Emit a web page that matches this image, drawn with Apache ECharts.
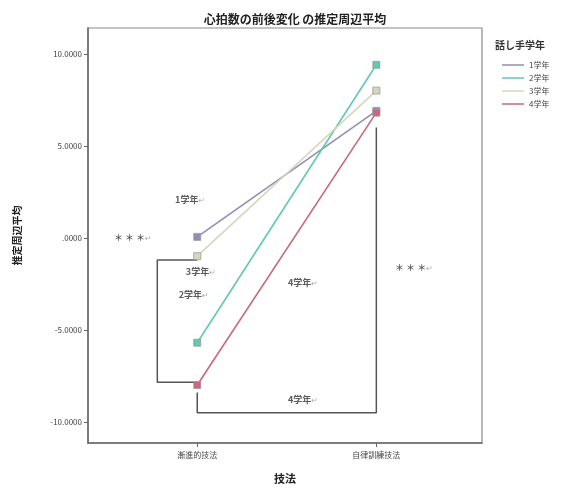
<!DOCTYPE html>
<html>
<head>
<meta charset="utf-8">
<script src="https://cdn.jsdelivr.net/npm/echarts@6/dist/echarts.min.js"></script>
<style>
  html, body { margin: 0; padding: 0; background: #fff; }
  #chart { width: 563px; height: 489px; }
</style>
</head>
<body>
<div id="chart"></div>
<script>
// Estimated marginal means of heart-rate change, by technique and grade
const techniques = ['漸進的技法', '自律訓練技法'];
const grades = ['1学年', '2学年', '3学年', '4学年'];
const grade1 = [0.05, 6.9];
const grade2 = [-5.7, 9.4];
const grade3 = [-1.0, 8.0];
const grade4 = [-8.0, 6.8];
const gradeColors = ['#8f8fb4', '#62c8b2', '#d6d6bc', '#c8687a'];
const yTicks = [-10, -5, 0, 5, 10];

// significance notes: [x, y, text]
const notes = [
  [-0.04, 2.07, '1学年'],
  [-0.36, 0.0, '＊ ＊ ＊'],
  [0.02, -1.85, '3学年'],
  [-0.02, -3.1, '2学年'],
  [0.59, -2.45, '4学年'],
  [1.21, -1.63, '＊ ＊ ＊'],
  [0.59, -8.8, '4学年']
];
// comparison brackets
const bracketLeft = [[0, -1.2], [-0.223, -1.2], [-0.223, -7.85], [0, -7.85]];
const bracketBottom = [[0, -8.4], [0, -9.5], [1, -9.5], [1, 6.0]];

const seriesValues = [grade1, grade2, grade3, grade4];
const font = '"Noto Sans CJK JP", "DejaVu Sans", sans-serif';

const lineSeries = grades.map((g, i) => ({
  name: g,
  type: 'line',
  data: seriesValues[i].map((v, k) => [k, v]),
  symbol: 'rect',
  symbolSize: 7,
  lineStyle: { color: gradeColors[i], width: 1.6 },
  itemStyle: { color: gradeColors[i], borderColor: '#9a9a9a', borderWidth: 0.8 },
  z: 3
}));

const bracketSeries = [bracketLeft, bracketBottom].map(b => ({
  type: 'line',
  data: b,
  symbol: 'none',
  silent: true,
  lineStyle: { color: '#555', width: 1.5 },
  z: 2
}));

const noteSeries = {
  type: 'scatter',
  data: notes.map(n => ({ value: [n[0], n[1]], txt: n[2] })),
  symbolSize: 0,
  silent: true,
  label: {
    show: true,
    position: 'inside',
    formatter: p => '{t|' + p.data.txt + '}{m|↵}',
    rich: {
      t: { fontSize: 9, color: '#333', fontFamily: font, fontWeight: 'bold' },
      m: { fontSize: 8, color: '#999', fontFamily: font }
    }
  },
  z: 4
};

const chart = echarts.init(document.getElementById('chart'), null, { renderer: 'canvas' });
chart.setOption({
  backgroundColor: '#fff',
  animation: false,
  title: [
    {
      text: '心拍数の前後変化 の推定周辺平均',
      left: 290, top: 8, textAlign: 'center',
      textStyle: { fontSize: 12, fontWeight: 'bold', color: '#222', fontFamily: font }
    },
    {
      text: '話し手学年',
      left: 490, top: 35,
      textStyle: { fontSize: 10, fontWeight: 'bold', color: '#333', fontFamily: font }
    }
  ],
  legend: {
    data: grades.map((g, i) => ({ name: g, itemStyle: { color: gradeColors[i], borderWidth: 0 } })),
    orient: 'vertical',
    left: 497, top: 56,
    icon: 'rect',
    itemWidth: 22, itemHeight: 1.5,
    itemGap: 5,
    textStyle: { fontSize: 8, color: '#444', fontFamily: font }
  },
  grid: {
    left: 88, right: 81, top: 28, bottom: 46,
    show: true, borderColor: '#8a8a8a', borderWidth: 1.2, backgroundColor: 'transparent'
  },
  xAxis: {
    type: 'value',
    min: -0.61, max: 1.59,
    name: '技法', nameLocation: 'middle', nameGap: 30,
    nameTextStyle: { fontSize: 11, fontWeight: 'bold', color: '#222', fontFamily: font },
    axisLine: { show: true, onZero: false, lineStyle: { color: '#666', width: 1.5 } },
    axisTick: { show: true, customValues: [0, 1], length: 4, lineStyle: { color: '#666' } },
    axisLabel: {
      customValues: [0, 1],
      formatter: v => techniques[Math.round(v)],
      fontSize: 8, color: '#444', fontFamily: font, margin: 8
    },
    splitLine: { show: false }
  },
  yAxis: {
    type: 'value',
    min: -11.15, max: 11.4,
    name: '推定周辺平均', nameLocation: 'middle', nameGap: 66, nameRotate: 90,
    nameTextStyle: { fontSize: 10, fontWeight: 'bold', color: '#222', fontFamily: font },
    axisLine: { show: true, onZero: false, lineStyle: { color: '#666', width: 1.5 } },
    axisTick: { show: true, customValues: yTicks, length: 4, lineStyle: { color: '#666' } },
    axisLabel: {
      customValues: yTicks,
      formatter: v => {
        const s = Math.abs(v).toFixed(4).replace(/^0/, '');
        return (v < 0 ? '-' : '') + s;
      },
      fontSize: 8, color: '#444', fontFamily: font, margin: 6
    },
    splitLine: { show: false }
  },
  series: [...bracketSeries, ...lineSeries, noteSeries]
});
</script>
</body>
</html>
